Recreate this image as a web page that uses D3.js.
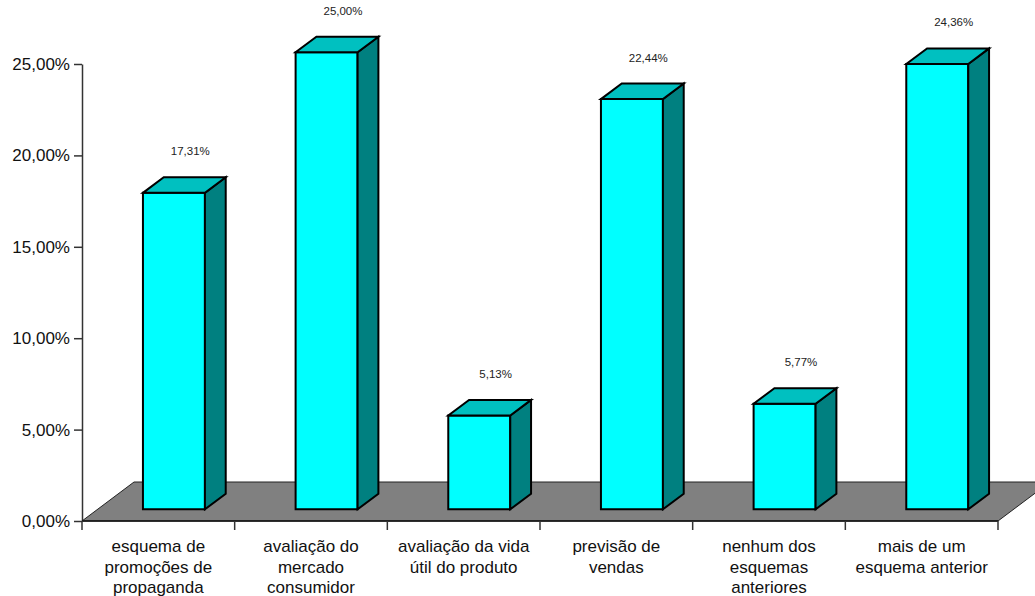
<!DOCTYPE html>
<html>
<head>
<meta charset="utf-8">
<script src="https://cdn.jsdelivr.net/npm/d3@7/dist/d3.min.js"></script>
<style>
  html, body { margin: 0; padding: 0; background: #fff; }
  svg { display: block; font-family: "Liberation Sans", Arial, sans-serif; }
</style>
</head>
<body>
<svg id="chart" width="1035" height="596"></svg>
<script>
const categories = [
  "esquema de\npromoções de\npropaganda",
  "avaliação do\nmercado\nconsumidor",
  "avaliação da vida\nútil do produto",
  "previsão de\nvendas",
  "nenhum dos\nesquemas\nanteriores",
  "mais de um\nesquema anterior"
];
const values = [17.31, 25.00, 5.13, 22.44, 5.77, 24.36];
const yTicks = [0, 5, 10, 15, 20, 25];

const locale = d3.formatLocale({decimal: ",", thousands: ".", grouping: [3], currency: ["R$", ""]});
const fmt = v => locale.format(".2f")(v) + "%";

const svg = d3.select("#chart");

const x = d3.scaleBand().domain(categories).range([82, 998]).paddingInner(0).paddingOuter(0);
const y = d3.scaleLinear().domain([0, 25]).range([521, 64]);
const DX = 52, DY = -39;       // depth vector of the floor
const Z0 = 0.3, Z1 = 0.7;      // bar depth extent
const barFrac = 0.406;

const proj = (xp, v, z) => [xp + z * DX, y(v) + z * DY];
const poly = pts => pts.map(p => p.join(",")).join(" ");

// floor
const [x0, x1] = x.range();
svg.append("polygon")
  .attr("points", poly([proj(x0, 0, 0), proj(x1, 0, 0), proj(x1, 0, 1), proj(x0, 0, 1)]))
  .attr("fill", "#808080")
  .attr("stroke", "#222")
  .attr("stroke-width", 1);

// bars
const bw = x.bandwidth();
const w = bw * barFrac;
const bars = svg.append("g").selectAll("g").data(values).join("g");
bars.each(function(v, i) {
  const g = d3.select(this);
  const xl = x(categories[i]) + (bw - w) / 2, xr = xl + w;
  const style = sel => sel.attr("stroke", "#000").attr("stroke-width", 2).attr("stroke-linejoin", "miter");
  g.append("polygon")
    .attr("points", poly([proj(xl, 0, Z0), proj(xr, 0, Z0), proj(xr, v, Z0), proj(xl, v, Z0)]))
    .attr("fill", "#00FFFF").call(style);
  g.append("polygon")
    .attr("points", poly([proj(xr, 0, Z0), proj(xr, 0, Z1), proj(xr, v, Z1), proj(xr, v, Z0)]))
    .attr("fill", "#008080").call(style);
  g.append("polygon")
    .attr("points", poly([proj(xl, v, Z0), proj(xr, v, Z0), proj(xr, v, Z1), proj(xl, v, Z1)]))
    .attr("fill", "#00C0C0").call(style);
  const top = proj(xr, v, Z1);
  g.append("text")
    .attr("x", x(categories[i]) + bw / 2 + 32)
    .attr("y", top[1] - 26)
    .attr("dy", "0.35em")
    .attr("text-anchor", "middle")
    .attr("font-size", 11.5)
    .attr("fill", "#222")
    .text(fmt(v));
});

// y axis
const yAxis = svg.append("g")
  .attr("transform", "translate(82,0)")
  .call(d3.axisLeft(y).tickValues(yTicks).tickSize(8).tickSizeOuter(0).tickPadding(4).tickFormat(fmt));
yAxis.select(".domain").attr("stroke", "#333").attr("stroke-width", 1.5);
yAxis.selectAll(".tick line").attr("stroke", "#333").attr("stroke-width", 1.5);
yAxis.selectAll(".tick text").attr("font-size", 17).attr("fill", "#111")
  .attr("font-family", "Liberation Sans, Arial, sans-serif");

// x axis (front edge of floor)
svg.append("line")
  .attr("x1", x0).attr("x2", x1).attr("y1", y(0)).attr("y2", y(0))
  .attr("stroke", "#111").attr("stroke-width", 1.5);
const bounds = categories.map(c => x(c)).concat([x1]);
svg.append("g").selectAll("line").data(bounds).join("line")
  .attr("x1", d => d).attr("x2", d => d)
  .attr("y1", y(0)).attr("y2", y(0) + 9)
  .attr("stroke", "#333").attr("stroke-width", 1.5);

const labels = svg.append("g").selectAll("text").data(categories).join("text")
  .attr("text-anchor", "middle")
  .attr("font-size", 17)
  .attr("fill", "#111")
  .attr("x", c => x(c) + bw / 2)
  .attr("y", 552);
labels.each(function(c) {
  d3.select(this).selectAll("tspan").data(c.split("\n")).join("tspan")
    .attr("x", x(c) + bw / 2)
    .attr("dy", (d, j) => j === 0 ? 0 : 20.5)
    .text(d => d);
});
</script>
</body>
</html>
